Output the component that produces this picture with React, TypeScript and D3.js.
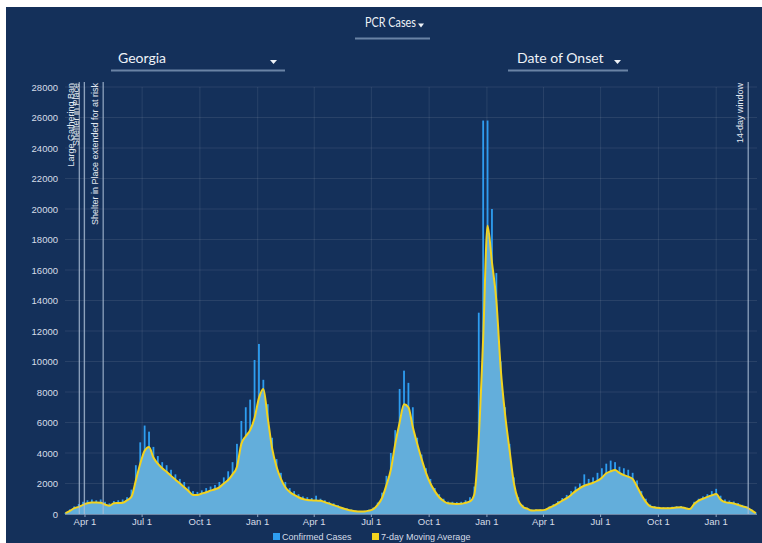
import React from "react";
import * as d3 from "d3";

const START = new Date(2020, 2, 1);
const END = new Date(2023, 2, 7);

// 7-day moving average, weekly samples from Mar 1 2020
const movingAvg = [
  50, 200, 380, 470, 600, 700, 750, 760, 740, 620,
  540, 700, 720, 740, 900, 1130, 2200, 3300, 4150, 4400,
  3700, 3300, 3000, 2770, 2500, 2250, 2010, 1750, 1500, 1250,
  1250, 1340, 1430, 1530, 1620, 1750, 2000, 2230, 2600, 3100,
  4600, 5100, 5500, 6300, 7600, 8200, 6300, 4300, 3100, 2300,
  1750, 1450, 1250, 1100, 980, 920, 900, 880, 870, 780,
  680, 580, 480, 380, 300, 230, 180, 160, 170, 220,
  320, 600, 1050, 1900, 2900, 4600, 6000, 7200, 7000, 5700,
  4600, 3600, 2700, 2000, 1500, 1100, 850, 700, 680, 660,
  670, 740, 820, 1300, 5000, 11500, 18900, 16500, 14000, 9500,
  6500, 4200, 2000, 900, 480, 350, 230, 240, 250, 270,
  400, 530, 700, 880, 1040, 1250, 1500, 1700, 1850, 1950,
  2050, 2180, 2380, 2670, 2800, 2880, 2700, 2550, 2450, 2300,
  1800, 1250, 800, 500, 430, 390, 370, 380, 400, 430,
  440, 380, 320, 650, 880, 1000, 1120, 1220, 1310, 950,
  780, 730, 690, 600, 500, 420, 250, 60,
];

// Confirmed cases (daily spikes), same weekly samples
const confirmed = [
  80, 300, 500, 650, 800, 900, 950, 900, 950, 800,
  700, 850, 900, 950, 1100, 1600, 3200, 4700, 5800, 5400,
  4400, 3800, 3400, 3200, 2900, 2600, 2300, 2100, 1800, 1500,
  1450, 1550, 1700, 1800, 1900, 2100, 2400, 2800, 3400, 4600,
  6100, 7000, 7500, 10100, 11150, 8800, 7200, 5000, 3600, 2700,
  2100, 1700, 1500, 1300, 1150, 1100, 1050, 1200, 1000, 900,
  800, 700, 580, 460, 370, 290, 230, 200, 220, 280,
  420, 750, 1400, 2500, 4000, 5500, 8200, 9400, 8600, 7000,
  5000, 3900, 3000, 2300, 1700, 1300, 1000, 820, 800, 780,
  800, 900, 1100, 1800, 13200, 25800, 25800, 20000, 15800, 10000,
  7000, 4600, 2400, 1100, 600, 420, 300, 290, 300, 330,
  480, 650, 850, 1050, 1250, 1500, 1800, 2000, 2600, 2300,
  2400, 2700, 3000, 3300, 3500, 3400, 3100, 3000, 2900, 2700,
  2200, 1500, 1000, 620, 520, 470, 440, 450, 480, 510,
  520, 450, 400, 800, 1000, 1150, 1300, 1500, 1650, 1200,
  950, 880, 820, 720, 600, 500, 320, 100,
];

const yTicks = [0, 2000, 4000, 6000, 8000, 10000, 12000, 14000, 16000, 18000, 20000, 22000, 24000, 26000, 28000];

const annotations = [
  { date: new Date(2020, 2, 23), label: "Large Gathering Ban" },
  { date: new Date(2020, 2, 31), label: "Shelter in Place" },
  { date: new Date(2020, 3, 30), label: "Shelter in Place extended for at risk" },
  { date: new Date(2023, 1, 21), label: "14-day window" },
];

const legendItems = [
  { label: "Confirmed Cases", color: "#2e9df0" },
  { label: "7-day Moving Average", color: "#f2d31f" },
];

export default function App() {
  const dates = movingAvg.map((_, i) => d3.timeDay.offset(START, 7 * i));
  const x = d3.scaleTime().domain([START, END]).range([65.5, 757]);
  const y = d3.scaleLinear().domain([0, 28000]).range([514, 87]);
  const xTicks = d3.timeMonth.every(3)!.range(new Date(2020, 2, 2), END);
  const fmt = d3.timeFormat("%b %-d");

  const rows = dates.map((d, i) => ({ d, a: movingAvg[i], c: confirmed[i] }));
  const area = d3
    .area<any>()
    .x((r) => x(r.d))
    .y0(y(0))
    .y1((r) => y(r.a))
    .curve(d3.curveMonotoneX);
  const line = d3
    .line<any>()
    .x((r) => x(r.d))
    .y((r) => y(r.a))
    .curve(d3.curveMonotoneX);

  const axisFont = "'Liberation Sans', Arial, sans-serif";
  const headFont = "Lato, 'Open Sans', sans-serif";
  const txt = "#d6dde8";

  return (
    <svg width={762} height={543} style={{ position: "absolute", left: 0, top: 0 }}>
      <rect x={0} y={0} width={762} height={543} fill="#ffffff" />
      <rect x={6} y={7} width={756} height={536} fill="#14305a" />

      {/* header controls */}
      <text x={365} y={27} fill="#eef2f7" fontSize={13} fontFamily={headFont} textLength={51} lengthAdjust="spacingAndGlyphs">PCR Cases</text>
      <path d="M418,23.5 l6,0 l-3,4 z" fill="#eef2f7" />
      <line x1={355} x2={430} y1={38.5} y2={38.5} stroke="#6a83a5" strokeWidth={2} />

      <text x={118} y={63} fill="#eef2f7" fontSize={14} fontFamily={headFont}>Georgia</text>
      <path d="M270,60 l7,0 l-3.5,4 z" fill="#eef2f7" />
      <line x1={111} x2={285} y1={70.5} y2={70.5} stroke="#6a83a5" strokeWidth={2} />

      <text x={517} y={63} fill="#eef2f7" fontSize={14} fontFamily={headFont}>Date of Onset</text>
      <path d="M614,60 l7,0 l-3.5,4 z" fill="#eef2f7" />
      <line x1={508} x2={628} y1={70.5} y2={70.5} stroke="#6a83a5" strokeWidth={2} />

      {/* grid */}
      {yTicks.map((t) => (
        <line key={"gy" + t} x1={65} x2={757} y1={y(t)} y2={y(t)} stroke="#ffffff" strokeOpacity={0.09} />
      ))}
      {xTicks.map((t) => (
        <line key={"gx" + t.getTime()} x1={x(t)} x2={x(t)} y1={87} y2={514} stroke="#ffffff" strokeOpacity={0.09} />
      ))}

      {/* y labels */}
      {yTicks.map((t) => (
        <text key={"ly" + t} x={58} y={y(t) + 3.5} textAnchor="end" fill={txt} fontSize={9.5} fontFamily={axisFont}>
          {t}
        </text>
      ))}

      {/* confirmed bars */}
      {rows.map((r, i) => (
        <rect
          key={"b" + i}
          x={x(r.d) - 0.9}
          y={y(r.c)}
          width={1.8}
          height={y(0) - y(r.c)}
          fill="#2e9df0"
        />
      ))}

      {/* moving average area + line */}
      <path d={area(rows) || ""} fill="#63aedb" />
      <path d={line(rows) || ""} fill="none" stroke="#f2d31f" strokeWidth={2} />

      {/* x axis */}
      <line x1={65} x2={757} y1={514.5} y2={514.5} stroke="#8fa6c2" strokeOpacity={0.7} />
      {xTicks.map((t) => (
        <g key={"lx" + t.getTime()}>
          <line x1={x(t)} x2={x(t)} y1={514} y2={517} stroke="#8fa6c2" />
          <text x={x(t)} y={525} textAnchor="middle" fill={txt} fontSize={9.5} fontFamily={axisFont}>
            {fmt(t)}
          </text>
        </g>
      ))}

      {/* annotations */}
      {annotations.map((a) => {
        const ax = x(a.date);
        return (
          <g key={a.label}>
            <line x1={ax} x2={ax} y1={82} y2={514} stroke="#aabdd4" strokeOpacity={0.8} strokeWidth={1.3} />
            <text
              transform={`translate(${ax - 5},${83}) rotate(-90)`}
              textAnchor="end"
              fill="#e3e9f1"
              fontSize={9}
              fontFamily={axisFont}
            >
              {a.label}
            </text>
          </g>
        );
      })}

      {/* legend */}
      <rect x={273} y={533} width={7} height={7} fill={legendItems[0].color} />
      <text x={282} y={540} fill={txt} fontSize={9} fontFamily={axisFont}>{legendItems[0].label}</text>
      <rect x={372} y={533} width={7} height={7} fill={legendItems[1].color} />
      <text x={381} y={540} fill={txt} fontSize={9} fontFamily={axisFont}>{legendItems[1].label}</text>
    </svg>
  );
}
